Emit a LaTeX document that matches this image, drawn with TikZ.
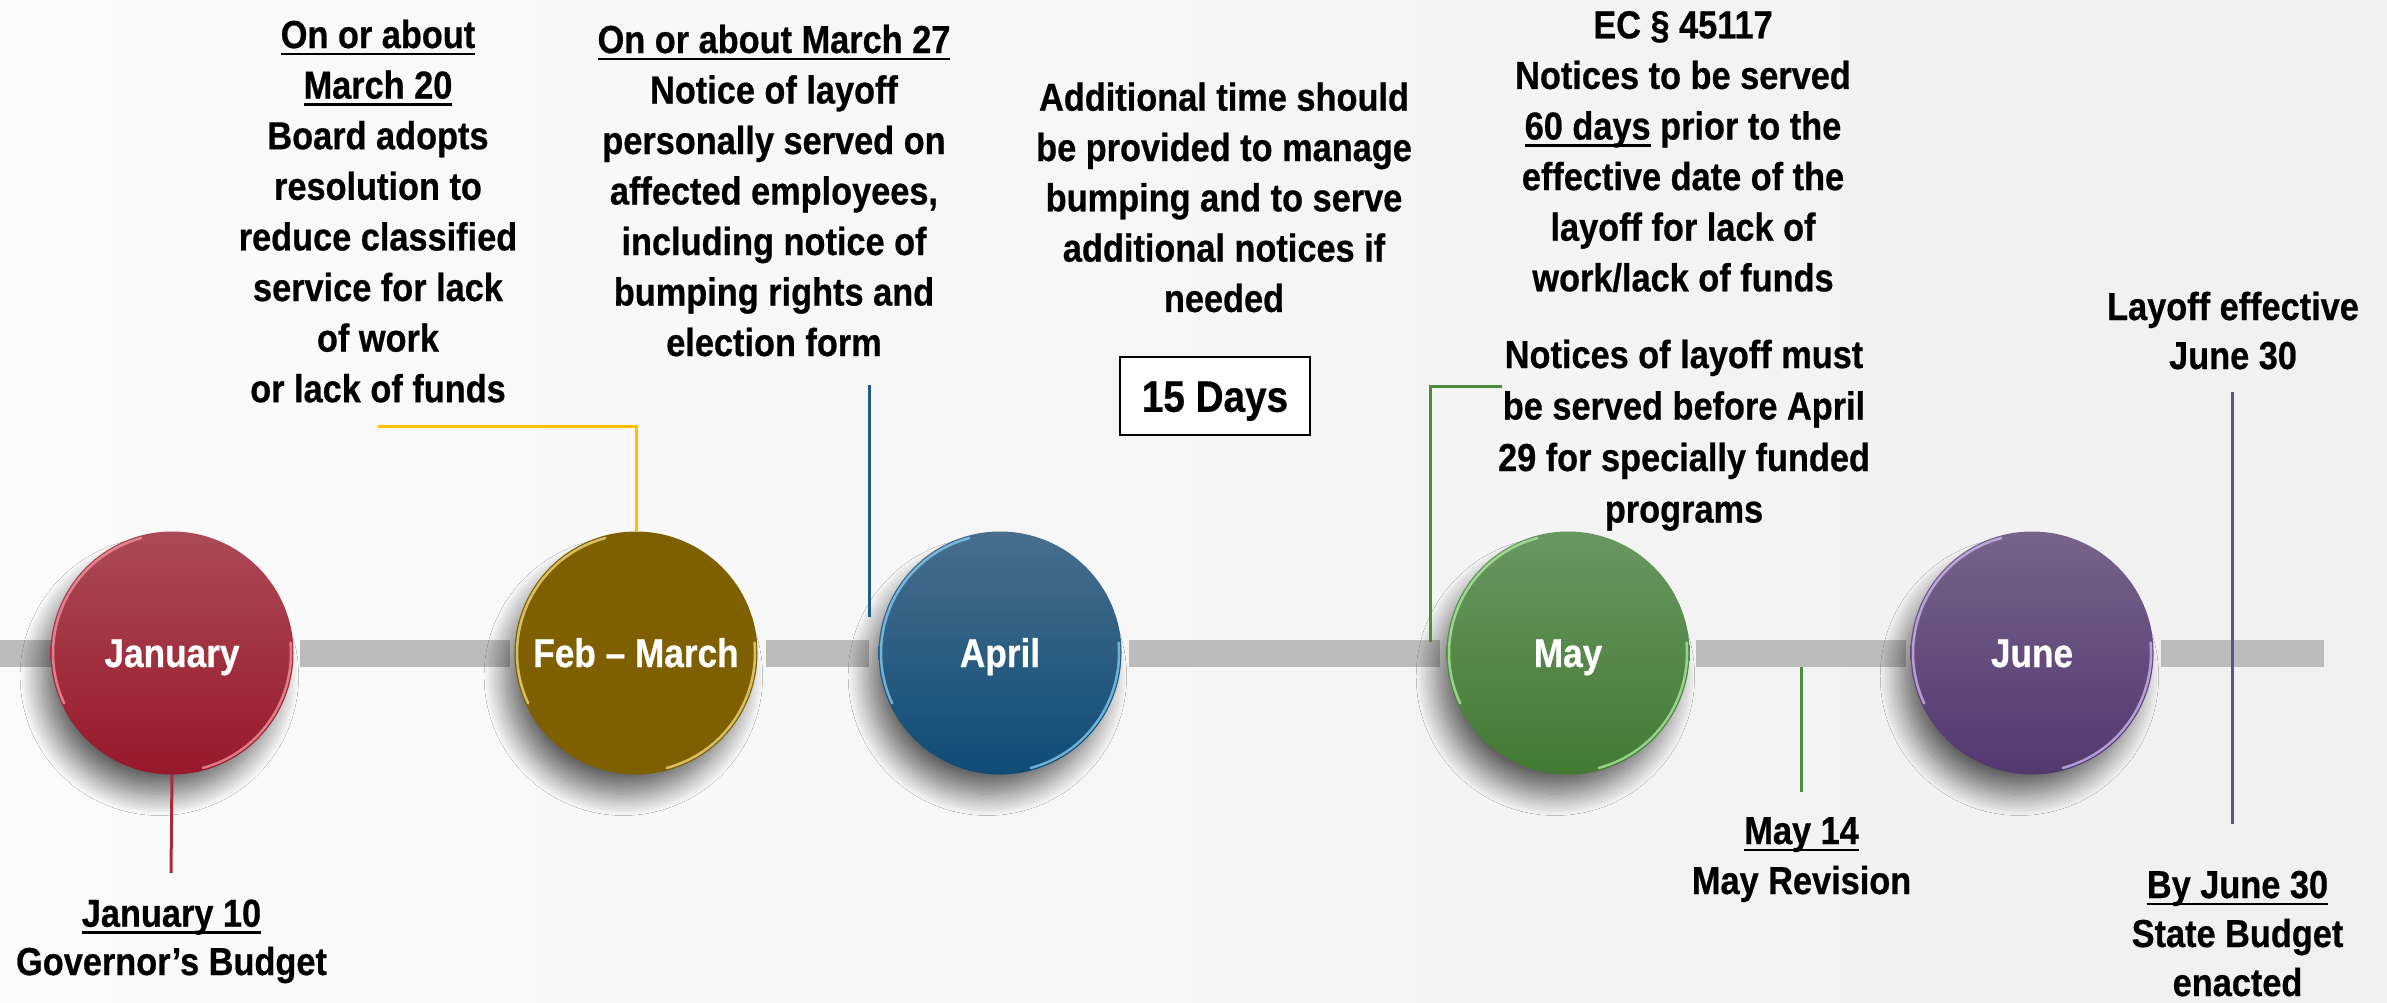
\documentclass[tikz,border=0pt]{standalone}
\usepackage{fontspec}
\newfontfamily\lsb{Liberation Sans}[UprightFont={* Bold}, FakeStretch=0.88, FakeBold=0.6]
\usetikzlibrary{shadows.blur}

\definecolor{bgL}{HTML}{FBFBFB}
\definecolor{bgR}{HTML}{F0F0F0}
\definecolor{barg}{HTML}{BCBCBC}
\definecolor{janT}{HTML}{AC4A57}
\definecolor{janB}{HTML}{97182A}
\definecolor{janR}{HTML}{F59AA4}
\definecolor{febC}{HTML}{7F6000}
\definecolor{febR}{HTML}{F7E08A}
\definecolor{aprT}{HTML}{486E8D}
\definecolor{aprB}{HTML}{0E4C76}
\definecolor{aprR}{HTML}{8AD0F5}
\definecolor{mayT}{HTML}{699762}
\definecolor{mayB}{HTML}{427A32}
\definecolor{mayR}{HTML}{B2EEA2}
\definecolor{junT}{HTML}{77638B}
\definecolor{junB}{HTML}{523870}
\definecolor{junR}{HTML}{D2BDF5}
\definecolor{leadRed}{HTML}{A82B3C}
\definecolor{leadYel}{HTML}{FFC000}
\definecolor{leadBlu}{HTML}{1F5B85}
\definecolor{leadGrn}{HTML}{4F8A3F}
\definecolor{leadPur}{HTML}{65508A}

% underline with a fixed offset below the baseline
\newsavebox\ulbox
\newcommand\ulin[1]{\sbox\ulbox{#1}\rlap{\rule[-7pt]{\wd\ulbox}{2.5pt}}\usebox\ulbox}
% fixed height for the first line of every label
\newcommand\hs{\rule{0pt}{30pt}}

\tikzset{
  lbl/.style={anchor=north, inner sep=0pt, outer sep=0pt, align=center, text=black,
    font=\lsb\fontsize{39}{#1}\selectfont},
  lbl/.default=50.6,
  month/.style={circle, minimum size=243pt, inner sep=0pt, outer sep=0pt, text=white,
    font=\lsb\fontsize{40}{44}\selectfont, text height=28pt, text depth=0pt,
    blur shadow={shadow xshift=-13pt, shadow yshift=-24pt, shadow scale=0.97,
      shadow blur radius=22pt, shadow blur steps=24, shadow opacity=60}},
  barseg/.style={fill=barg},
  lead/.style={line width=3pt},
  rim/.style={line width=2.5pt, line cap=round, opacity=0.75},
  daysbox/.style={draw=black, line width=2.5pt, fill=white, minimum width=190pt,
    minimum height=78pt, inner sep=0pt, font=\lsb\fontsize{44}{48}\selectfont,
    text height=31.5pt, text depth=0pt}
}

\begin{document}
\begin{tikzpicture}[x=1pt, y=-1pt]
\useasboundingbox (0,0) rectangle (2387,1002);
\fill[left color=bgL, right color=bgR] (0,0) rectangle (2387,1002);

% timeline bar pieces between the month discs
\fill[barseg] (0,640) rectangle (51,667);
\fill[barseg] (300,640) rectangle (510,667);
\fill[barseg] (766,640) rectangle (869,667);
\fill[barseg] (1129,640) rectangle (1440,667);
\fill[barseg] (1696,640) rectangle (1906,667);
\fill[barseg] (2161,640) rectangle (2324,667);

% month discs
\node[month, top color=janT, bottom color=janB] (jan) at (172,653) {January};
\node[month, fill=febC] (feb) at (636,653) {Feb – March};
\node[month, top color=aprT, bottom color=aprB] (apr) at (1000,653) {April};
\node[month, top color=mayT, bottom color=mayB] (may) at (1568,653) {May};
\node[month, top color=junT, bottom color=junB] (jun) at (2032,653) {June};

% glossy rim highlights
\foreach \n/\c in {jan/janR, feb/febR, apr/aprR, may/mayR, jun/junR}{
  \draw[rim, \c] ([shift={(105:119pt)}]\n.center) arc[start angle=105, end angle=205, radius=119pt];
  \draw[rim, \c] ([shift={(-75:119pt)}]\n.center) arc[start angle=-75, end angle=5, radius=119pt];
}

% lead lines
\coordinate (y1) at (378,426);
\draw[lead, leadYel] (y1) -| (feb.north);
\coordinate (b1) at (869,385);
\coordinate (b2) at (869,617);
\draw[lead, leadBlu] (b1) -- (b2);
\coordinate (g1) at (1502,386);
\coordinate (g2) at (1430,642);
\draw[lead, leadGrn] (g1) -| (g2);
\coordinate (g3) at (1801,667);
\coordinate (g4) at (1801,792);
\draw[lead, leadGrn] (g3) -- (g4);
\coordinate (r1) at (171,873);
\draw[lead, leadRed] (jan.south) -- (r1);
\coordinate (p1) at (2232,392);
\coordinate (p2) at (2232,824);
\draw[lead, leadPur] (p1) -- (p2);

% labels
\node[lbl] (t1) at (378,18) {\hs\ulin{On or about}\\\ulin{March 20}\\Board adopts\\resolution to\\reduce classified\\service for lack\\of work\\or lack of funds};
\node[lbl=50.5] (t2) at (774,23) {\hs\ulin{On or about March 27}\\Notice of layoff\\personally served on\\affected employees,\\including notice of\\bumping rights and\\election form};
\node[lbl=50.3] (t3) at (1224,80.7) {\hs Additional time should\\be provided to manage\\bumping and to serve\\additional notices if\\needed};
\node[daysbox] (d15) at (1215,396) {15 Days};
\node[lbl=50.6] (t4) at (1683,8.3) {\hs EC § 45117\\Notices to be served\\\ulin{60 days} prior to the\\effective date of the\\layoff for lack of\\work/lack of funds};
\node[lbl=51.5] (t5) at (1684,338) {\hs Notices of layoff must\\be served before April\\29 for specially funded\\programs};
\node[lbl=49] (t6) at (2233,290) {\hs Layoff effective\\June 30};
\node[lbl=48.3] (t7) at (171.5,896.7) {\hs\ulin{January 10}\\Governor’s Budget};
\node[lbl=50] (t8) at (1801.6,814) {\hs\ulin{May 14}\\May Revision};
\node[lbl=49] (t9) at (2237.5,868) {\hs\ulin{By June 30}\\State Budget\\enacted};
\end{tikzpicture}
\end{document}
